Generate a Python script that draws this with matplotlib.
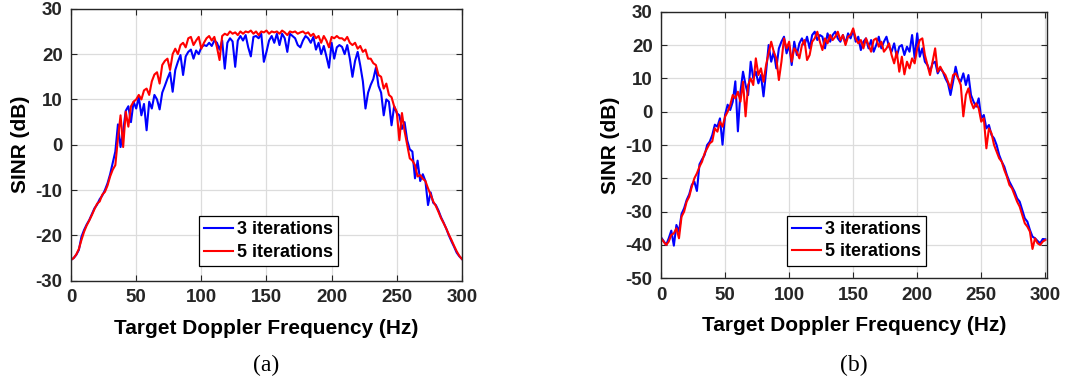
import matplotlib.pyplot as plt
import numpy as np

plt.rcParams["font.family"] = ["Liberation Sans", "DejaVu Sans"]
plt.rcParams["axes.unicode_minus"] = False

# Doppler frequency grid (Hz), 2 Hz step
freq = np.arange(0, 301, 2)

# (a) SINR in dB
sinr_a_3 = [
    -25.4, -25.0, -24.3, -23.2, -20.3, -18.8, -17.6, -16.6, -15.3, -14.0,
    -13.2, -12.0, -11.2, -10.0, -8.5, -6.5, -4.0, -1.5, 4.5, -0.5,
    3.0, 7.5, 8.5, 5.0, 9.5, 8.0, 10.5, 6.5, 9.0, 3.2,
    9.5, 8.0, 11.0, 10.0, 7.8, 11.5, 13.0, 14.6, 16.0, 11.7,
    16.5, 18.3, 19.8, 15.4, 19.5, 20.5, 21.0, 19.0, 20.8, 20.0,
    21.5, 22.0, 21.8, 22.5, 21.8, 23.0, 22.5, 21.0, 23.0, 16.8,
    22.5, 23.5, 22.8, 17.2, 23.0, 24.0, 23.0, 24.2, 21.5, 19.5,
    23.8, 24.0, 23.5, 24.5, 18.3, 20.5, 23.0, 24.0, 22.5, 24.5,
    22.0, 24.5, 23.5, 20.5, 24.5, 24.0, 23.5, 22.0, 21.5, 23.0,
    24.0, 23.5, 22.5, 23.8, 21.0, 22.5, 20.0, 21.8, 19.5, 17.0,
    22.5, 19.0, 21.5, 22.0, 21.6, 20.0, 22.0, 19.0, 15.0, 18.5,
    20.5, 17.5, 14.0, 8.0, 11.5, 13.2, 14.5, 17.0, 13.0, 11.5,
    6.5, 10.0, 9.5, 4.3, 8.5, 7.0, 6.5, 3.5, 5.0, 1.0,
    -1.0, -1.5, -7.4, -3.5, -8.0, -6.5, -8.0, -13.3, -10.5, -12.8,
    -13.3, -14.5, -16.0, -17.2, -18.5, -20.0, -21.3, -22.5, -23.8, -24.6,
    -25.2,
]
sinr_a_5 = [
    -25.4, -25.0, -24.2, -23.0, -21.0, -19.2, -17.8, -16.7, -15.5, -14.2,
    -13.0, -12.5, -11.0, -10.4, -9.0, -7.0, -5.5, -4.5, 1.4, 6.5,
    -0.5, 7.3, 4.0, 8.5, 9.5, 10.0, 11.0, 10.0, 12.0, 12.4,
    11.0, 14.0, 15.5, 16.0, 13.5, 17.6, 18.5, 19.0, 16.5, 20.0,
    21.2, 20.0, 22.0, 22.5, 21.5, 23.5, 23.8, 22.0, 23.0, 23.8,
    21.2, 22.5, 23.5, 24.0, 23.0, 23.8, 21.5, 18.7, 24.0, 24.5,
    24.2, 25.0, 24.5, 24.8, 24.2, 25.0, 24.5, 25.0, 24.8, 25.2,
    24.5, 25.0, 24.2, 25.0, 24.8, 25.2, 24.5, 25.0, 24.8, 25.0,
    24.5, 25.2, 24.8, 24.2, 25.0, 24.8, 25.0, 24.5, 24.8, 25.0,
    24.5, 24.8, 24.0, 24.5, 23.5, 24.0, 22.5, 24.0, 23.0, 21.5,
    23.8, 23.5, 24.0, 23.5, 23.5, 23.0, 23.8, 22.5, 22.0, 22.5,
    21.2, 21.8, 20.5, 21.0, 19.0, 19.0, 18.0, 17.6, 15.4, 15.0,
    12.4, 13.5, 11.0, 10.5, 8.5, 7.3, 1.0, 7.0, 3.0, 0.0,
    -3.0, -3.5, -4.5, -7.0, -6.7, -7.5, -8.0, -9.6, -11.0, -12.5,
    -13.5, -14.8, -16.2, -17.3, -18.5, -19.8, -21.0, -22.3, -23.5, -24.5,
    -25.2,
]

# (b) SINR in dB
sinr_b_3 = [
    -37.7, -38.8, -40.0, -38.0, -35.7, -40.2, -34.0, -36.0, -30.7, -29.0,
    -26.5, -24.8, -22.0, -21.0, -23.8, -15.8, -14.3, -13.0, -10.0, -9.0,
    -7.0, -3.9, -4.5, -2.0, -9.9, -0.9, 2.1, 0.5, 3.0, 9.1,
    -5.9, 6.0, 12.0, 8.0, 5.0, 15.0, 10.0, 12.0, 8.5, 11.0,
    4.6, 12.0, 20.0, 15.0, 18.0, 13.0, 19.0, 21.0, 22.5, 17.5,
    20.0, 14.0, 21.0, 17.0, 20.5, 22.0, 20.0, 22.5, 19.0, 23.0,
    24.0, 21.5, 23.0, 22.5, 19.0, 23.5, 21.0, 23.0, 24.0, 22.0,
    21.0, 23.0, 20.5, 23.5, 22.0, 24.5, 21.0, 22.5, 18.5, 21.0,
    22.0, 19.0, 21.5, 18.0, 20.0, 22.5, 19.0, 21.0, 22.5, 19.5,
    18.0, 20.5, 16.5, 19.5, 20.0, 17.0, 19.5, 18.0, 23.0, 16.0,
    23.5, 16.5, 19.0, 15.0, 14.0, 12.0, 14.5, 15.0, 11.5, 13.0,
    12.0, 10.0, 8.5, 5.0, 9.0, 13.5, 10.0, 9.0, 11.5, 8.0,
    11.0, 5.0, 3.0, 1.5, 4.0, -2.0, -1.0, -5.0, -4.0, -7.0,
    -8.0, -10.0, -13.0, -15.0, -16.5, -19.0, -21.0, -22.5, -24.0, -26.0,
    -27.0, -29.5, -32.0, -33.0, -35.5, -37.5, -38.0, -38.8, -39.5, -38.2,
    -38.3,
]
sinr_b_5 = [
    -38.0, -39.0, -40.0, -39.0, -37.0, -36.5, -35.0, -38.0, -31.5, -30.0,
    -27.0, -25.5, -22.5, -20.0, -18.5, -16.5, -15.0, -12.5, -11.0, -9.5,
    -8.9, -5.0, -6.0, -3.0, -4.5, -1.5, 0.0, 2.0, 5.0, 4.0,
    6.0, 3.0, 9.0, -1.4, 8.0, 10.0, 8.0, 16.0, 11.0, 13.0,
    9.0, 14.0, 17.5, 21.0, 18.0, 16.0, 9.5, 15.0, 22.0, 19.0,
    21.0, 15.0, 19.0, 18.0, 16.0, 20.0, 21.5, 15.5, 17.0, 21.0,
    22.0, 24.0, 21.0, 18.5, 22.0, 20.5, 23.0, 21.5, 22.5, 24.0,
    21.5, 23.0, 20.0, 22.5, 23.0, 25.0, 22.0, 20.5, 21.5, 19.0,
    22.0, 20.0, 18.0, 21.5, 22.0, 19.5, 21.0, 18.0, 19.0, 20.5,
    17.0, 14.5, 18.0, 12.0, 16.5, 11.2, 15.0, 13.0, 16.0, 14.5,
    19.0, 21.5, 22.0, 17.0, 14.0, 11.0, 15.0, 19.0, 12.0, 13.5,
    12.0, 11.0, 9.0, 7.0, 11.0, 11.5, 10.0, 8.0, -1.4, 5.0,
    7.0, 3.0, 1.0, 2.5, 1.0, -3.0, -2.0, -11.0, -5.0, -6.5,
    -10.0, -12.0, -14.0, -15.0, -17.5, -19.5, -22.0, -23.0, -25.0, -27.0,
    -28.5, -31.0, -33.5, -34.5, -36.0, -41.2, -38.0, -39.5, -40.0, -39.0,
    -38.5,
]

fig = plt.figure(figsize=(10.65, 3.83), dpi=100)
ax_a = fig.add_axes([0.0667, 0.267, 0.367, 0.710])
ax_b = fig.add_axes([0.6207, 0.2734, 0.362, 0.696])

dark = "#262626"
panels = [
    (ax_a, sinr_a_3, sinr_a_5, (0, 300), (-30, 30), np.arange(-30, 31, 10), "(a)", (0.327, 0.238)),
    (ax_b, sinr_b_3, sinr_b_5, (0, 301), (-50, 30), np.arange(-50, 31, 10), "(b)", (0.326, 0.235)),
]

for ax, s3, s5, xl, yl, yt, tag, leg_pos in panels:
    ax.plot(freq, s3, color="blue", lw=1.5, label="3 iterations")
    ax.plot(freq, s5, color="red", lw=1.5, label="5 iterations")
    ax.set_xlim(*xl)
    ax.set_ylim(*yl)
    ax.set_xticks(np.arange(0, 301, 50))
    ax.set_yticks(yt)
    ax.grid(True, color="#dcdcdc", lw=0.9)
    ax.set_axisbelow(True)
    ax.tick_params(direction="in", top=True, right=True, length=4, width=0.8,
                   colors=dark, labelsize=13.5, pad=6)
    for lab in ax.get_xticklabels() + ax.get_yticklabels():
        lab.set_fontweight("bold")
    for sp in ax.spines.values():
        sp.set_color(dark)
        sp.set_linewidth(1.0)
    ax.set_xlabel("Target Doppler Frequency (Hz)", fontsize=15, fontweight="bold",
                  color="black", labelpad=9)
    ax.set_ylabel("SINR (dB)", fontsize=15, fontweight="bold", color="black", labelpad=4)
    leg = ax.legend(loc="upper left", bbox_to_anchor=leg_pos, borderaxespad=0,
                    prop={"weight": "bold", "size": 13}, fancybox=False,
                    edgecolor="black", framealpha=1, handlelength=1.6,
                    handletextpad=0.2, borderpad=0.3, labelspacing=0.3)
    leg.get_frame().set_linewidth(0.9)
    pos = ax.get_position()
    fig.text(pos.x0 + pos.width / 2, 0.045, tag, ha="center", va="center",
             fontsize=17, family=["Liberation Serif", "DejaVu Serif"])

fig.savefig("out.png", dpi=100)
